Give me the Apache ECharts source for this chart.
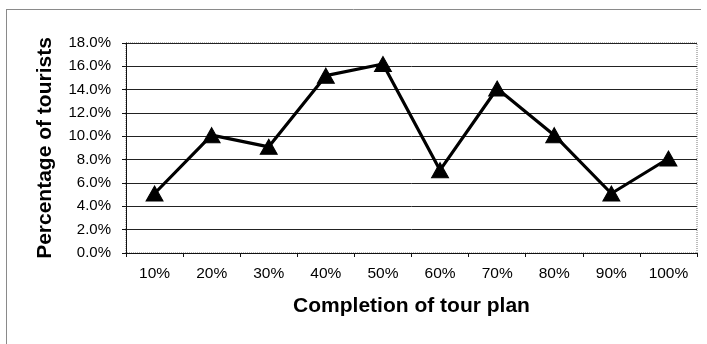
<!DOCTYPE html>
<html>
<head>
<meta charset="utf-8">
<script src="https://cdn.jsdelivr.net/npm/echarts@6/dist/echarts.min.js"></script>
<style>
  html, body { margin: 0; padding: 0; background: #fff; }
  #chart { width: 707px; height: 344px; }
</style>
</head>
<body>
<div id="chart"></div>
<script>
// Share of tourists by how much of their tour plan they completed
var categories = ['10%', '20%', '30%', '40%', '50%', '60%', '70%', '80%', '90%', '100%'];
var touristShare = [5.1, 10.1, 9.1, 15.2, 16.2, 7.1, 14.1, 10.1, 5.1, 8.1];
var yTitle = 'Percentage of tourists';
var xTitle = 'Completion of tour plan';

var chart = echarts.init(document.getElementById('chart'), null, { renderer: 'canvas' });

chart.setOption({
  animation: false,
  backgroundColor: '#ffffff',
  textStyle: { fontFamily: 'Liberation Sans, Arial, sans-serif' },
  graphic: [
    // outer chart-area frame (top and left edges)
    { type: 'line', shape: { x1: 6, y1: 9.5, x2: 701, y2: 9.5 }, style: { stroke: '#8a8a8a', lineWidth: 1 } },
    { type: 'line', shape: { x1: 6.5, y1: 9, x2: 6.5, y2: 344 }, style: { stroke: '#8a8a8a', lineWidth: 1 } }
  ],
  grid: {
    left: 126, right: 10, top: 43, bottom: 91,
    show: true,
    borderColor: '#777',
    borderWidth: 1,
    borderType: 'dotted'
  },
  xAxis: {
    type: 'category',
    data: categories,
    boundaryGap: true,
    axisLine: { lineStyle: { color: '#111', width: 1 } },
    axisTick: { show: true, length: 4, lineStyle: { color: '#111' } },
    axisLabel: { color: '#000', fontSize: 15.5, margin: 13 },
    name: xTitle,
    nameLocation: 'middle',
    nameGap: 43,
    nameTextStyle: { color: '#000', fontSize: 21, fontWeight: 'bold' }
  },
  yAxis: {
    type: 'value',
    min: 0, max: 18, interval: 2,
    axisLine: { show: true, lineStyle: { color: '#111', width: 1 } },
    axisTick: { show: true, length: 4, lineStyle: { color: '#111' } },
    axisLabel: {
      color: '#000', fontSize: 15, margin: 15,
      formatter: function (v) { return v.toFixed(1) + '%'; }
    },
    splitLine: { show: true, lineStyle: { color: '#222', width: 1 } },
    name: yTitle,
    nameLocation: 'middle',
    nameGap: 70,
    nameTextStyle: { color: '#000', fontSize: 21, fontWeight: 'bold' }
  },
  series: [{
    type: 'line',
    data: touristShare,
    symbol: 'triangle',
    symbolSize: [17, 15],
    showAllSymbol: true,
    lineStyle: { color: '#000', width: 3.2 },
    itemStyle: { color: '#000', borderColor: '#000' }
  }]
});
</script>
</body>
</html>
